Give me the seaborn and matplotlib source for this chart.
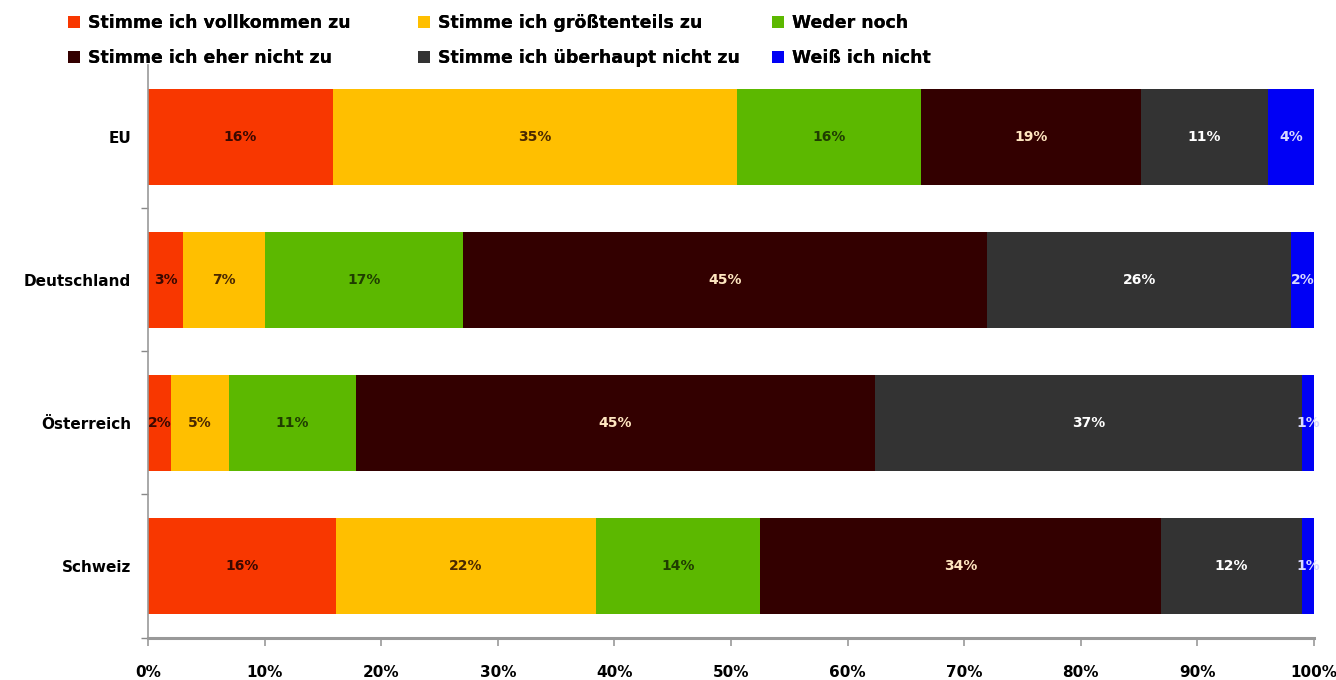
import numpy as np
import pandas as pd
import matplotlib.pyplot as plt
import seaborn as sns
from matplotlib.patches import Patch

# --- Daten ---
laender = ['EU', 'Deutschland', 'Österreich', 'Schweiz']
antworten = ['Stimme ich vollkommen zu', 'Stimme ich größtenteils zu', 'Weder noch',
             'Stimme ich eher nicht zu', 'Stimme ich überhaupt nicht zu', 'Weiß ich nicht']
werte_eu = [16, 35, 16, 19, 11, 4]
werte_de = [3, 7, 17, 45, 26, 2]
werte_at = [2, 5, 11, 45, 37, 1]
werte_ch = [16, 22, 14, 34, 12, 1]

farben = ['#F83700', '#FFBF00', '#5CB800', '#330000', '#333333', '#0000F5']
textfarben = ['#3A0800', '#4A2800', '#1F3D00', '#FFE6C0', '#FFFFFF', '#D8D8FF']

sns.set_style('white')
plt.rcParams['font.family'] = ['DejaVu Sans']
plt.rcParams['text.color'] = 'black'
plt.rcParams['xtick.color'] = 'black'
plt.rcParams['ytick.color'] = 'black'

werte = np.array([werte_eu, werte_de, werte_at, werte_ch], dtype=float)
# 100%-gestapelt: auf Zeilensumme normieren
anteil = werte / werte.sum(axis=1, keepdims=True) * 100
kumuliert = anteil.cumsum(axis=1)

fig = plt.figure(figsize=(13.36, 6.8), dpi=100)
ax = fig.add_axes([0.1108, 0.0625, 0.8727, 0.8412])

# von hinten nach vorne zeichnen, damit die kürzeren Balken oben liegen
for i in range(len(antworten) - 1, -1, -1):
    df = pd.DataFrame({'Land': laender, 'x': kumuliert[:, i]})
    sns.barplot(data=df, x='x', y='Land', orient='h', color=farben[i],
                width=0.665, saturation=1, ax=ax, linewidth=0)

for r in range(len(laender)):
    for i in range(len(antworten)):
        mitte = kumuliert[r, i] - anteil[r, i] / 2
        ax.text(mitte, r, f'{int(werte[r, i])}%', ha='center', va='center',
                fontsize=10, fontweight='bold', color=textfarben[i])

ax.set_xlim(0, 100)
ax.set_ylim(3.5, -0.5)
ax.set_xticks(range(0, 101, 10))
ax.set_xticklabels([f'{v}%' for v in range(0, 101, 10)], fontsize=11, fontweight='bold')
ax.set_yticks(range(len(laender)))
ax.set_yticklabels(laender, fontsize=11, fontweight='bold')
ax.set_yticks([0.5, 1.5, 2.5, 3.5], minor=True)
ax.tick_params(axis='y', which='major', left=True, length=0, pad=12)
ax.tick_params(axis='y', which='minor', left=True, length=5, color='#888888',
               width=1, direction='out')
ax.tick_params(axis='x', bottom=True, length=6, color='#999999', width=1.2,
               direction='out', pad=14, labelcolor='black')
ax.set_xlabel('')
ax.set_ylabel('')

for s in ['top', 'right']:
    ax.spines[s].set_visible(False)
ax.spines['left'].set_color('#999999')
ax.spines['left'].set_linewidth(1.2)
ax.spines['bottom'].set_color('#999999')
ax.spines['bottom'].set_linewidth(2.2)

# Legende: drei Spalten mit je zwei Einträgen, einzeln platziert
handles = [Patch(facecolor=c, edgecolor='none') for c in farben]
spalten_x = [52, 402, 756]
for s, x0 in enumerate(spalten_x):
    leg = fig.legend([handles[s], handles[s + 3]], [antworten[s], antworten[s + 3]],
                     loc='upper left', bbox_to_anchor=(x0 / 1336, 1.002), frameon=False,
                     prop={'weight': 'bold', 'size': 12.5}, handlelength=0.7,
                     handleheight=0.7, handletextpad=0.5, labelspacing=0.95)
    fig.add_artist(leg)

fig.savefig('out.png', dpi=100)
